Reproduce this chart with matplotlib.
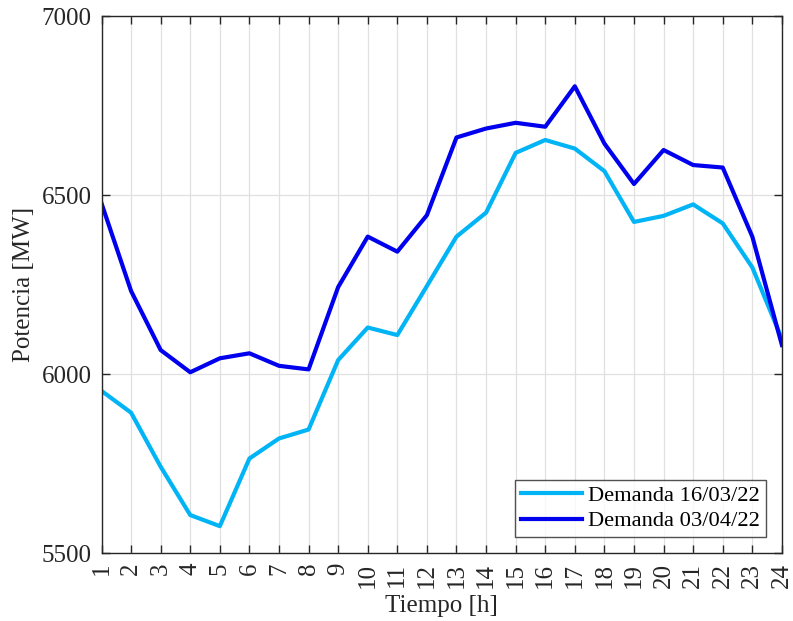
import matplotlib.pyplot as plt

# Demanda horaria (MW) para dos días
horas = list(range(1, 25))
demanda_16_03 = [5953, 5892, 5741, 5606, 5575, 5764, 5820, 5845, 6039, 6130,
                 6109, 6246, 6384, 6451, 6618, 6654, 6630, 6567, 6425, 6442,
                 6474, 6421, 6298, 6098]
demanda_03_04 = [6477, 6232, 6067, 6005, 6044, 6058, 6023, 6013, 6243, 6384,
                 6342, 6444, 6661, 6686, 6702, 6691, 6804, 6644, 6531, 6626,
                 6584, 6577, 6384, 6081]
etiquetas = ["Demanda 16/03/22", "Demanda 03/04/22"]

plt.rcParams["font.family"] = ["Liberation Serif", "DejaVu Serif"]
plt.rcParams["mathtext.fontset"] = "stix"

fig = plt.figure(figsize=(7.93, 6.21), dpi=100)
ax = fig.add_axes([0.128, 0.1095, 0.858, 0.8645])

ax.plot(horas, demanda_16_03, color="#00B4F5", linewidth=3.0, label=etiquetas[0])
ax.plot(horas, demanda_03_04, color="#0000EE", linewidth=3.0, label=etiquetas[1])

ax.set_xlim(1, 24)
ax.set_ylim(5500, 7000)
ax.set_xticks(horas)
ax.set_xticklabels([str(h) for h in horas], rotation=90)
ax.set_yticks([5500, 6000, 6500, 7000])

ax.grid(True, color="#E0E0E0", linewidth=0.9)
ax.set_axisbelow(True)
for spine in ax.spines.values():
    spine.set_color("#262626")
    spine.set_linewidth(1.0)
ax.tick_params(direction="in", length=6, width=1.0, colors="#262626",
               labelsize=18, top=True, right=True, pad=7)

ax.set_xlabel("Tiempo [h]", fontsize=18, color="#262626", va="center")
ax.xaxis.set_label_coords(0.5, -0.098)
ax.set_ylabel("Potencia [MW]", fontsize=18, color="#262626", labelpad=5)

leg = ax.legend(loc="lower right", fontsize=16.2, frameon=True, fancybox=False,
                edgecolor="#262626", handlelength=2.7, borderpad=0.25,
                labelspacing=0.2, handletextpad=0.3, borderaxespad=0,
                bbox_to_anchor=(0.9765, 0.0298))
leg.get_frame().set_linewidth(1.0)

fig.savefig("out.png", dpi=100)
